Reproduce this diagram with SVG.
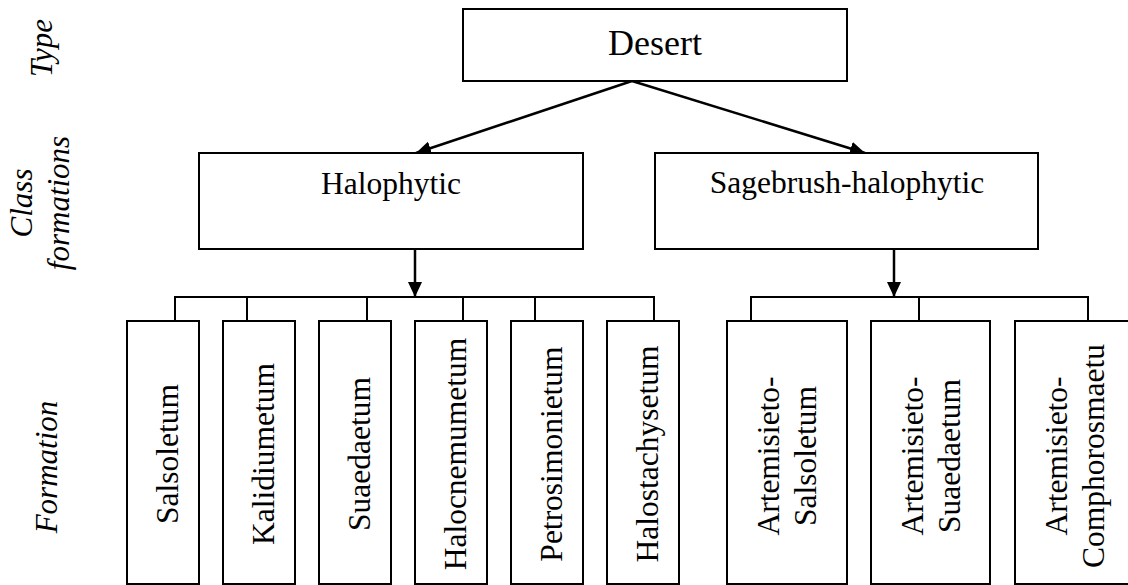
<svg xmlns="http://www.w3.org/2000/svg" width="1128" height="585" viewBox="0 0 1128 585">
  <style>
    .box { fill: #fff; stroke: #000; stroke-width: 2; }
    .lbl { font-size: 31.5px; fill: #000; text-anchor: middle; }
    .big { font-size: 36px; }
    .axis { font-style: italic; font-size: 31px; fill: #000; text-anchor: middle; }
    .wire { fill: none; stroke: #000; stroke-width: 2; }
    .arrow { fill: none; stroke: #000; stroke-width: 2.5; marker-end: url(#head); }
  </style>
  <defs>
    <marker id="head" markerUnits="userSpaceOnUse" markerWidth="16" markerHeight="14" refX="15" refY="7" orient="auto">
      <path d="M0,0 L15,7 L0,14 z" fill="#000"/>
    </marker>
  </defs>

  <rect width="1128" height="585" fill="#fff"/>

  <g font-family="Liberation Serif, serif">
  <!-- level captions on the left -->
  <g id="level-labels">
    <text class="axis" transform="translate(52,48) rotate(-90)">Type</text>
    <text class="axis" transform="translate(32,203) rotate(-90)"><tspan x="0" y="0">Class</tspan><tspan x="0" y="37">formations</tspan></text>
    <text class="axis" transform="translate(57,467) rotate(-90)">Formation</text>
  </g>

  <!-- connectors -->
  <g id="connectors">
    <line class="arrow" x1="632" y1="81" x2="416" y2="153"/>
    <line class="arrow" x1="632" y1="81" x2="865" y2="153"/>
    <line class="arrow" x1="415" y1="250" x2="415" y2="297"/>
    <line class="arrow" x1="894" y1="250" x2="894" y2="297"/>
    <path class="wire" d="M175,321 V297 H654 V321 M247,297 V321 M367,297 V321 M463,297 V321 M535,297 V321"/>
    <path class="wire" d="M751,321 V297 H1088 V321 M919,297 V321"/>
  </g>

  <!-- type -->
  <g id="desert">
    <rect class="box" x="463" y="9" width="384" height="72"/>
    <text class="lbl big" x="655" y="55">Desert</text>
  </g>

  <!-- class formations -->
  <g id="halophytic">
    <rect class="box" x="199" y="153" width="384" height="96"/>
    <text class="lbl" x="391" y="194">Halophytic</text>
  </g>
  <g id="sagebrush-halophytic">
    <rect class="box" x="655" y="153" width="383" height="96"/>
    <text class="lbl" x="847" y="193">Sagebrush-halophytic</text>
  </g>

  <!-- formations -->
  <g id="salsoletum">
    <rect class="box" x="127" y="321" width="72" height="263"/>
    <text class="lbl" transform="translate(178,454) rotate(-90)">Salsoletum</text>
  </g>
  <g id="kalidiumetum">
    <rect class="box" x="223" y="321" width="72" height="263"/>
    <text class="lbl" transform="translate(274,454) rotate(-90)">Kalidiumetum</text>
  </g>
  <g id="suaedaetum">
    <rect class="box" x="319" y="321" width="72" height="263"/>
    <text class="lbl" transform="translate(370,454) rotate(-90)">Suaedaetum</text>
  </g>
  <g id="halocnemumetum">
    <rect class="box" x="415" y="321" width="72" height="263"/>
    <text class="lbl" transform="translate(466,454) rotate(-90)">Halocnemumetum</text>
  </g>
  <g id="petrosimonietum">
    <rect class="box" x="511" y="321" width="72" height="263"/>
    <text class="lbl" transform="translate(562,454) rotate(-90)">Petrosimonietum</text>
  </g>
  <g id="halostachysetum">
    <rect class="box" x="607" y="321" width="72" height="263"/>
    <text class="lbl" transform="translate(658,454) rotate(-90)">Halostachysetum</text>
  </g>
  <g id="artemisieto-salsoletum">
    <rect class="box" x="727" y="321" width="120" height="263"/>
    <text class="lbl" transform="translate(779,456) rotate(-90)"><tspan x="0" y="0">Artemisieto-</tspan><tspan x="0" y="37">Salsoletum</tspan></text>
  </g>
  <g id="artemisieto-suaedaetum">
    <rect class="box" x="871" y="321" width="119" height="263"/>
    <text class="lbl" transform="translate(923,456) rotate(-90)"><tspan x="0" y="0">Artemisieto-</tspan><tspan x="0" y="37">Suaedaetum</tspan></text>
  </g>
  <g id="artemisieto-comphorosmaetu">
    <rect class="box" x="1015" y="321" width="125" height="263"/>
    <text class="lbl" transform="translate(1067,456) rotate(-90)"><tspan x="0" y="0">Artemisieto-</tspan><tspan x="0" y="37">Comphorosmaetu</tspan></text>
  </g>
  </g>
</svg>
